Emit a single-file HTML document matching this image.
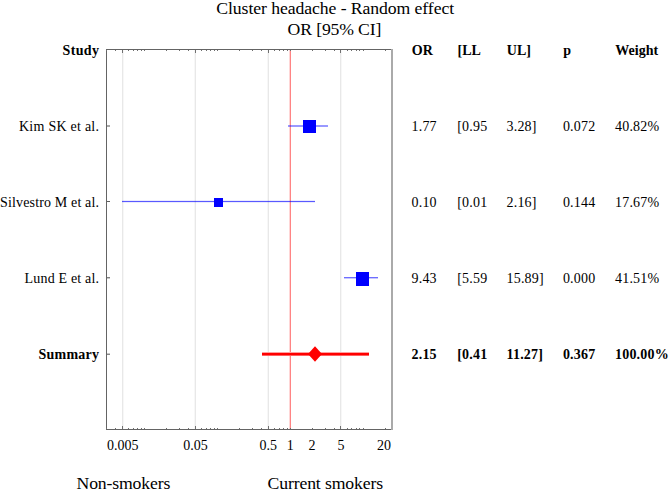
<!DOCTYPE html>
<html><head><meta charset="utf-8"><style>
html,body{margin:0;padding:0;background:#fff;}
body{width:669px;height:490px;overflow:hidden;position:relative;}
svg{position:absolute;left:0;top:0;}
text{font-family:"Liberation Serif",serif;fill:#000;}
</style></head><body>
<svg width="669" height="490" viewBox="0 0 669 490">
<g shape-rendering="crispEdges">
<rect x="122" y="50" width="1" height="379" fill="#e8e8e8"/>
<rect x="123" y="50" width="1" height="379" fill="#f7f7f7"/>
<rect x="195" y="50" width="1" height="379" fill="#e8e8e8"/>
<rect x="194" y="50" width="1" height="379" fill="#f7f7f7"/>
<rect x="268" y="50" width="1" height="379" fill="#e8e8e8"/>
<rect x="267" y="50" width="1" height="379" fill="#f7f7f7"/>
<rect x="340" y="50" width="1" height="379" fill="#e8e8e8"/>
<rect x="341" y="50" width="1" height="379" fill="#f7f7f7"/>
<rect x="290" y="50" width="1" height="379" fill="#ff8484"/>
<rect x="289" y="50" width="1" height="379" fill="#ffd6d6"/>
<rect x="106" y="49" width="287" height="1" fill="#646464"/>
<rect x="106" y="429" width="287" height="1" fill="#646464"/>
<rect x="106" y="49" width="1" height="381" fill="#646464"/>
<rect x="391" y="49" width="2" height="381" fill="#aaaaaa"/>
<rect x="106" y="428" width="1" height="1" fill="#707070"/>
<rect x="106" y="50" width="1" height="1" fill="#707070"/>
<rect x="115" y="428" width="1" height="1" fill="#707070"/>
<rect x="115" y="50" width="1" height="1" fill="#707070"/>
<rect x="122" y="426" width="1" height="3" fill="#707070"/>
<rect x="122" y="50" width="1" height="3" fill="#707070"/>
<rect x="128" y="428" width="1" height="1" fill="#707070"/>
<rect x="128" y="50" width="1" height="1" fill="#707070"/>
<rect x="133" y="428" width="1" height="1" fill="#707070"/>
<rect x="133" y="50" width="1" height="1" fill="#707070"/>
<rect x="137" y="428" width="1" height="1" fill="#707070"/>
<rect x="137" y="50" width="1" height="1" fill="#707070"/>
<rect x="141" y="428" width="1" height="1" fill="#707070"/>
<rect x="141" y="50" width="1" height="1" fill="#707070"/>
<rect x="144" y="428" width="1" height="1" fill="#707070"/>
<rect x="144" y="50" width="1" height="1" fill="#707070"/>
<rect x="166" y="428" width="1" height="1" fill="#707070"/>
<rect x="166" y="50" width="1" height="1" fill="#707070"/>
<rect x="179" y="428" width="1" height="1" fill="#707070"/>
<rect x="179" y="50" width="1" height="1" fill="#707070"/>
<rect x="188" y="428" width="1" height="1" fill="#707070"/>
<rect x="188" y="50" width="1" height="1" fill="#707070"/>
<rect x="195" y="426" width="1" height="3" fill="#707070"/>
<rect x="195" y="50" width="1" height="3" fill="#707070"/>
<rect x="201" y="428" width="1" height="1" fill="#707070"/>
<rect x="201" y="50" width="1" height="1" fill="#707070"/>
<rect x="206" y="428" width="1" height="1" fill="#707070"/>
<rect x="206" y="50" width="1" height="1" fill="#707070"/>
<rect x="210" y="428" width="1" height="1" fill="#707070"/>
<rect x="210" y="50" width="1" height="1" fill="#707070"/>
<rect x="214" y="428" width="1" height="1" fill="#707070"/>
<rect x="214" y="50" width="1" height="1" fill="#707070"/>
<rect x="217" y="428" width="1" height="1" fill="#707070"/>
<rect x="217" y="50" width="1" height="1" fill="#707070"/>
<rect x="239" y="428" width="1" height="1" fill="#707070"/>
<rect x="239" y="50" width="1" height="1" fill="#707070"/>
<rect x="252" y="428" width="1" height="1" fill="#707070"/>
<rect x="252" y="50" width="1" height="1" fill="#707070"/>
<rect x="261" y="428" width="1" height="1" fill="#707070"/>
<rect x="261" y="50" width="1" height="1" fill="#707070"/>
<rect x="268" y="426" width="1" height="3" fill="#707070"/>
<rect x="268" y="50" width="1" height="3" fill="#707070"/>
<rect x="274" y="428" width="1" height="1" fill="#707070"/>
<rect x="274" y="50" width="1" height="1" fill="#707070"/>
<rect x="279" y="428" width="1" height="1" fill="#707070"/>
<rect x="279" y="50" width="1" height="1" fill="#707070"/>
<rect x="283" y="428" width="1" height="1" fill="#707070"/>
<rect x="283" y="50" width="1" height="1" fill="#707070"/>
<rect x="287" y="428" width="1" height="1" fill="#707070"/>
<rect x="287" y="50" width="1" height="1" fill="#707070"/>
<rect x="290" y="428" width="1" height="1" fill="#707070"/>
<rect x="290" y="50" width="1" height="1" fill="#707070"/>
<rect x="312" y="428" width="1" height="1" fill="#707070"/>
<rect x="312" y="50" width="1" height="1" fill="#707070"/>
<rect x="325" y="428" width="1" height="1" fill="#707070"/>
<rect x="325" y="50" width="1" height="1" fill="#707070"/>
<rect x="334" y="428" width="1" height="1" fill="#707070"/>
<rect x="334" y="50" width="1" height="1" fill="#707070"/>
<rect x="340" y="426" width="1" height="3" fill="#707070"/>
<rect x="340" y="50" width="1" height="3" fill="#707070"/>
<rect x="347" y="428" width="1" height="1" fill="#707070"/>
<rect x="347" y="50" width="1" height="1" fill="#707070"/>
<rect x="351" y="428" width="1" height="1" fill="#707070"/>
<rect x="351" y="50" width="1" height="1" fill="#707070"/>
<rect x="356" y="428" width="1" height="1" fill="#707070"/>
<rect x="356" y="50" width="1" height="1" fill="#707070"/>
<rect x="359" y="428" width="1" height="1" fill="#707070"/>
<rect x="359" y="50" width="1" height="1" fill="#707070"/>
<rect x="363" y="428" width="1" height="1" fill="#707070"/>
<rect x="363" y="50" width="1" height="1" fill="#707070"/>
<rect x="385" y="428" width="1" height="1" fill="#707070"/>
<rect x="385" y="50" width="1" height="1" fill="#707070"/>
<rect x="107" y="125" width="3" height="1" fill="#a8a8a8"/>
<rect x="107" y="126" width="3" height="1" fill="#a8a8a8"/>
<rect x="107" y="201" width="3" height="1" fill="#606060"/>
<rect x="107" y="277" width="3" height="1" fill="#808080"/>
<rect x="107" y="278" width="3" height="1" fill="#c8c8c8"/>
<rect x="107" y="353" width="3" height="1" fill="#c8c8c8"/>
<rect x="107" y="354" width="3" height="1" fill="#888888"/>
<rect x="288" y="125" width="40" height="2" fill="#0000ff" fill-opacity="0.4"/>
<rect x="303" y="120" width="13" height="13" fill="#0000ff"/>
<rect x="122" y="201" width="193" height="1" fill="#0000ff" fill-opacity="0.65"/>
<rect x="122" y="200" width="193" height="1" fill="#0000ff" fill-opacity="0.08"/>
<rect x="122" y="202" width="193" height="1" fill="#0000ff" fill-opacity="0.08"/>
<rect x="214" y="198" width="9" height="9" fill="#0000ff"/>
<rect x="344" y="277" width="34" height="1" fill="#0000ff" fill-opacity="0.57"/>
<rect x="344" y="278" width="34" height="1" fill="#0000ff" fill-opacity="0.22"/>
<rect x="356" y="272" width="13" height="14" fill="#0000ff"/>
<rect x="262" y="352" width="107" height="1" fill="#ffa0a0"/>
<rect x="262" y="353" width="107" height="2" fill="#ff0000"/>
<rect x="262" y="355" width="107" height="1" fill="#ff6060"/>
<polygon points="315,346.3 322,354 315,361.7 308,354" fill="#ff0000" shape-rendering="geometricPrecision"/>
</g>
<g>
<text x="335.2" y="14" text-anchor="middle" font-size="17.7" textLength="237.8" lengthAdjust="spacing">Cluster headache - Random effect</text>
<text x="334.5" y="35" text-anchor="middle" font-size="17.7" textLength="93.8" lengthAdjust="spacing">OR [95% CI]</text>
<text x="99" y="55" text-anchor="end" font-size="14" font-weight="bold" textLength="36.4" lengthAdjust="spacing">Study</text>
<text x="411.8" y="55" text-anchor="start" font-size="14" font-weight="bold">OR</text>
<text x="457.5" y="55" text-anchor="start" font-size="14" font-weight="bold">[LL</text>
<text x="506.8" y="55" text-anchor="start" font-size="14" font-weight="bold">UL]</text>
<text x="563.2" y="55" text-anchor="start" font-size="14" font-weight="bold">p</text>
<text x="615.3" y="55" text-anchor="start" font-size="14" font-weight="bold">Weight</text>
<text x="99" y="131" text-anchor="end" font-size="14" textLength="80" lengthAdjust="spacing">Kim SK et al.</text>
<text x="411.5" y="131" text-anchor="start" font-size="14" letter-spacing="0.2">1.77</text>
<text x="457.2" y="131" text-anchor="start" font-size="14" letter-spacing="0.2">[0.95</text>
<text x="506.5" y="131" text-anchor="start" font-size="14" letter-spacing="0.2">3.28]</text>
<text x="562.9000000000001" y="131" text-anchor="start" font-size="14" letter-spacing="0.2">0.072</text>
<text x="615.0" y="131" text-anchor="start" font-size="14" letter-spacing="0.2">40.82%</text>
<text x="99" y="207" text-anchor="end" font-size="14" textLength="98.9" lengthAdjust="spacing">Silvestro M et al.</text>
<text x="411.5" y="207" text-anchor="start" font-size="14" letter-spacing="0.2">0.10</text>
<text x="457.2" y="207" text-anchor="start" font-size="14" letter-spacing="0.2">[0.01</text>
<text x="506.5" y="207" text-anchor="start" font-size="14" letter-spacing="0.2">2.16]</text>
<text x="562.9000000000001" y="207" text-anchor="start" font-size="14" letter-spacing="0.2">0.144</text>
<text x="615.0" y="207" text-anchor="start" font-size="14" letter-spacing="0.2">17.67%</text>
<text x="99" y="283" text-anchor="end" font-size="14" textLength="74.4" lengthAdjust="spacing">Lund E et al.</text>
<text x="411.5" y="283" text-anchor="start" font-size="14" letter-spacing="0.2">9.43</text>
<text x="457.2" y="283" text-anchor="start" font-size="14" letter-spacing="0.2">[5.59</text>
<text x="506.5" y="283" text-anchor="start" font-size="14" letter-spacing="0.2">15.89]</text>
<text x="562.9000000000001" y="283" text-anchor="start" font-size="14" letter-spacing="0.2">0.000</text>
<text x="615.0" y="283" text-anchor="start" font-size="14" letter-spacing="0.2">41.51%</text>
<text x="99" y="359" text-anchor="end" font-size="14" font-weight="bold" textLength="60.4" lengthAdjust="spacing">Summary</text>
<text x="411.5" y="359" text-anchor="start" font-size="14" font-weight="bold" letter-spacing="0.2">2.15</text>
<text x="457.2" y="359" text-anchor="start" font-size="14" font-weight="bold" letter-spacing="0.2">[0.41</text>
<text x="506.5" y="359" text-anchor="start" font-size="14" font-weight="bold" letter-spacing="0.2">11.27]</text>
<text x="562.9000000000001" y="359" text-anchor="start" font-size="14" font-weight="bold" letter-spacing="0.2">0.367</text>
<text x="615.0" y="359" text-anchor="start" font-size="14" font-weight="bold" letter-spacing="0.2">100.00%</text>
<text x="122.7" y="450" text-anchor="middle" font-size="14">0.005</text>
<text x="195.5" y="450" text-anchor="middle" font-size="14">0.05</text>
<text x="268.3" y="450" text-anchor="middle" font-size="14">0.5</text>
<text x="290.2" y="450" text-anchor="middle" font-size="14">1</text>
<text x="312.1" y="450" text-anchor="middle" font-size="14">2</text>
<text x="341.1" y="450" text-anchor="middle" font-size="14">5</text>
<text x="384.09999999999997" y="450" text-anchor="middle" font-size="14">20</text>
<text x="123.4" y="489" text-anchor="middle" font-size="17.7" textLength="93.8" lengthAdjust="spacing">Non-smokers</text>
<text x="325.3" y="489" text-anchor="middle" font-size="17.7" textLength="115.6" lengthAdjust="spacing">Current smokers</text>
</g>
</svg>
</body></html>
